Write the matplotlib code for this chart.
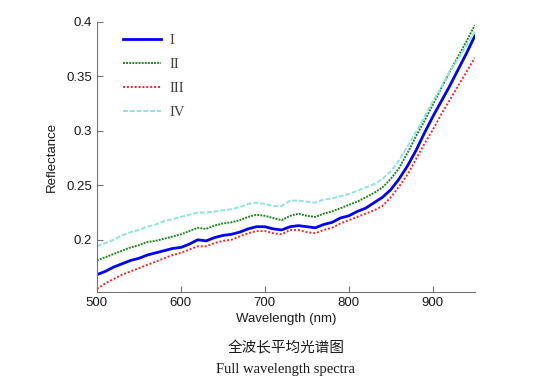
"""全波长平均光谱图 — Full wavelength spectra (four classes)."""

import matplotlib.pyplot as plt

wavelength = list(range(500, 951, 10))

refl_1 = [0.168, 0.171, 0.175, 0.178, 0.181, 0.183, 0.186, 0.188, 0.190, 0.192,
          0.193, 0.196, 0.200, 0.199, 0.202, 0.204, 0.205, 0.207, 0.210, 0.212,
          0.212, 0.210, 0.209, 0.212, 0.213, 0.212, 0.211, 0.214, 0.216, 0.220,
          0.222, 0.226, 0.229, 0.234, 0.239, 0.246, 0.256, 0.268, 0.282, 0.298,
          0.313, 0.327, 0.341, 0.356, 0.371, 0.387]
refl_2 = [0.181, 0.184, 0.187, 0.190, 0.193, 0.195, 0.198, 0.199, 0.201, 0.203,
          0.205, 0.208, 0.211, 0.210, 0.213, 0.215, 0.216, 0.218, 0.221, 0.223,
          0.222, 0.220, 0.218, 0.222, 0.224, 0.222, 0.221, 0.224, 0.226, 0.229,
          0.232, 0.235, 0.239, 0.243, 0.248, 0.256, 0.266, 0.280, 0.295, 0.309,
          0.324, 0.339, 0.354, 0.368, 0.382, 0.397]
refl_3 = [0.155, 0.160, 0.164, 0.168, 0.171, 0.174, 0.177, 0.180, 0.183, 0.186,
          0.188, 0.191, 0.194, 0.194, 0.197, 0.199, 0.200, 0.203, 0.206, 0.208,
          0.208, 0.206, 0.205, 0.209, 0.209, 0.207, 0.206, 0.209, 0.211, 0.215,
          0.218, 0.221, 0.224, 0.227, 0.231, 0.239, 0.249, 0.260, 0.274, 0.288,
          0.301, 0.315, 0.328, 0.341, 0.354, 0.367]
refl_4 = [0.194, 0.197, 0.200, 0.204, 0.207, 0.209, 0.212, 0.214, 0.217, 0.219,
          0.221, 0.223, 0.225, 0.225, 0.226, 0.227, 0.228, 0.230, 0.233, 0.234,
          0.233, 0.231, 0.231, 0.236, 0.236, 0.235, 0.234, 0.237, 0.238, 0.240,
          0.242, 0.245, 0.248, 0.251, 0.256, 0.263, 0.273, 0.286, 0.299, 0.313,
          0.327, 0.340, 0.354, 0.366, 0.378, 0.391]
labels = ["I", "II", "III", "IV"]

plt.rcParams["font.family"] = ["Liberation Sans", "DejaVu Sans"]

fig = plt.figure(figsize=(5.54, 3.91), dpi=100)
ax = fig.add_axes([0.175, 0.253, 0.682, 0.691])

ax.plot(wavelength, refl_1, color="#0000ff", lw=2.0, ls="-", label=labels[0])
ax.plot(wavelength, refl_2, color="#1a8a1a", lw=1.4, ls=(0, (1, 0.6)), label=labels[1])
ax.plot(wavelength, refl_3, color="#ff2020", lw=1.4, ls=(0, (1, 1)), label=labels[2])
ax.plot(wavelength, refl_4, color="#8fe3e3", lw=1.4, ls=(0, (2.5, 1)), label=labels[3])

ax.set_xlim(500, 950)
ax.set_ylim(0.152, 0.4)
ax.set_xticks([500, 600, 700, 800, 900])
ax.set_yticks([0.2, 0.25, 0.3, 0.35, 0.4])
ax.set_yticklabels(["0.2", "0.25", "0.3", "0.35", "0.4"])
for s in ("top", "right"):
    ax.spines[s].set_visible(False)
for s in ("left", "bottom"):
    ax.spines[s].set_color("0.45")
ax.tick_params(direction="in", length=4, color="0.45", labelsize=9.5, labelcolor="0.1")
ax.set_xlabel("Wavelength (nm)", fontsize=9.5, color="0.1", labelpad=3)
ax.set_ylabel("Reflectance", fontsize=9.5, color="0.1", labelpad=6)

leg = ax.legend(loc="upper left", bbox_to_anchor=(0.035, 1.005), frameon=False,
                handlelength=2.6, labelspacing=0.75, handletextpad=0.6,
                prop={"family": "Liberation Serif", "size": 10.5})
for t in leg.get_texts():
    t.set_color("0.25")

cx = 0.175 + 0.682 / 2
fig.text(cx, 1 - 348 / 391, "全波长平均光谱图", ha="center", va="center",
         fontsize=10.5, family=["Noto Sans CJK SC", "DejaVu Sans"], color="0.1")
fig.text(cx, 1 - 370 / 391, "Full wavelength spectra", ha="center", va="center",
         fontsize=10.5, family="Liberation Serif", color="0.1")

fig.savefig("out.png", dpi=100)
